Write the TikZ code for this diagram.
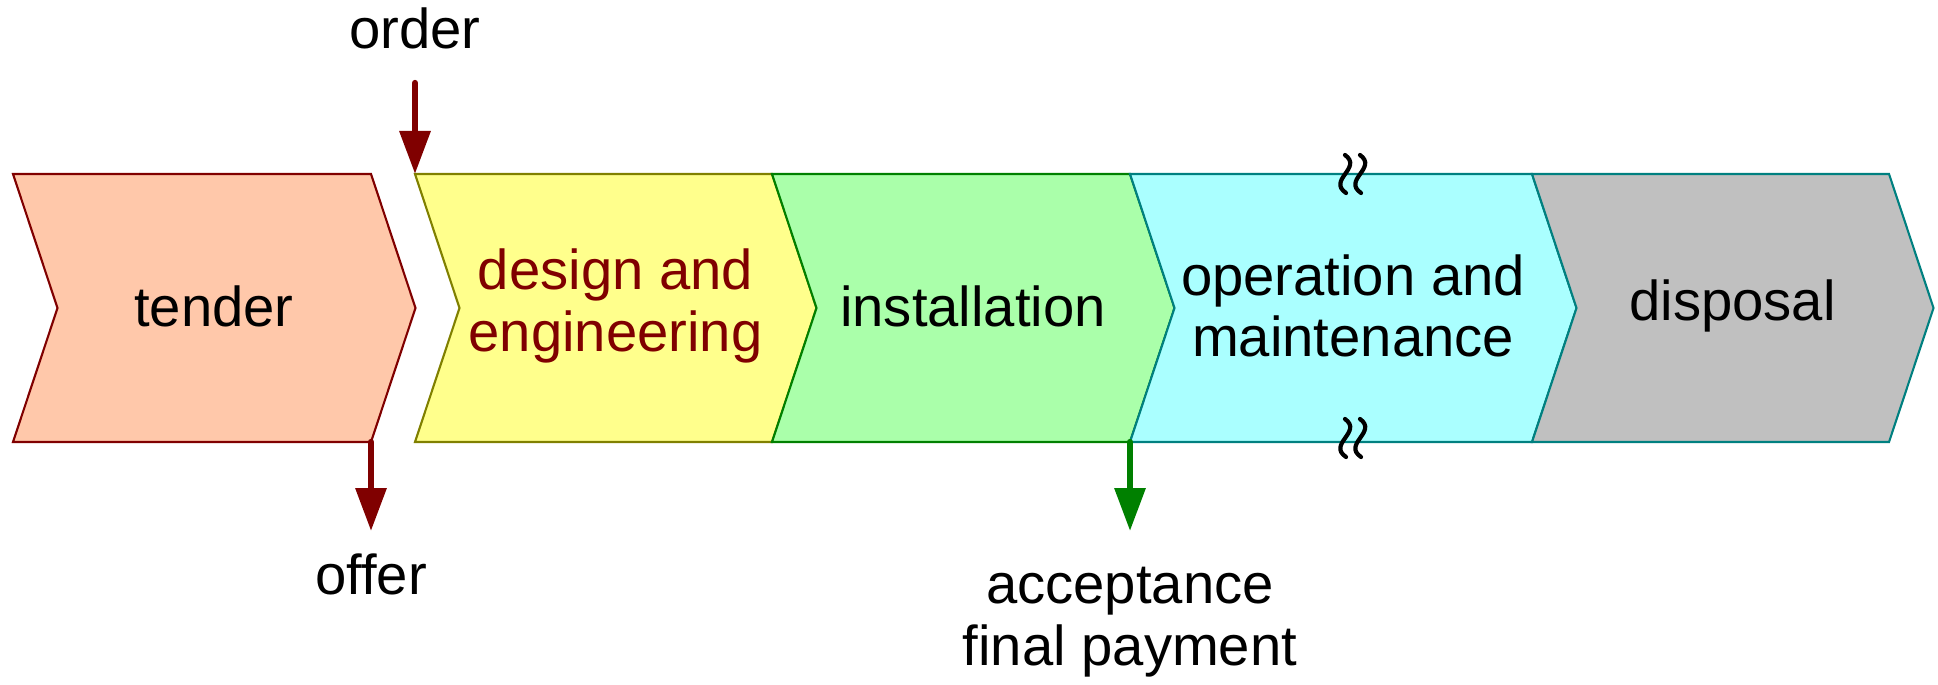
\documentclass[tikz,border=0pt]{standalone}
\usepackage{fontspec}
\setmainfont{Liberation Sans}
\usepackage{xcolor}
\usetikzlibrary{arrows.meta}

\definecolor{tenderfill}{HTML}{FFC8AA}
\definecolor{designfill}{HTML}{FFFF8C}
\definecolor{installfill}{HTML}{AAFFAA}
\definecolor{operatefill}{HTML}{AAFFFF}
\definecolor{disposefill}{HTML}{C0C0C0}
\definecolor{darkred}{HTML}{800000}
\definecolor{olive}{HTML}{808000}
\definecolor{darkgreen}{HTML}{008000}
\definecolor{teal}{HTML}{008080}

\tikzset{
    phase/.style = {line width = 0.6pt, line join = miter},
    phaselabel/.style = {font = \fontsize{16}{17.5}\selectfont, align = center},
    milestone/.style = {line width = 1.8pt, line cap = round,
        -{Triangle[length = 0.43cm, width = 0.30cm]}},
    breakmark/.style = {line width = 1.2pt, line cap = round}
}

\begin{document}
\begin{tikzpicture}
        \useasboundingbox (0, 0) rectangle (19.38, 6.84);

        \filldraw [phase, color = darkred, fill = tenderfill]
            (0.13, 5.10) -- (3.71, 5.10) -- (4.155, 3.76) -- (3.71, 2.42)
            -- (0.13, 2.42) -- (0.575, 3.76) -- cycle;
        \filldraw [phase, color = olive, fill = designfill]
            (4.15, 5.10) -- (7.72, 5.10) -- (8.165, 3.76) -- (7.72, 2.42)
            -- (4.15, 2.42) -- (4.595, 3.76) -- cycle;
        \filldraw [phase, color = darkgreen, fill = installfill]
            (7.72, 5.10) -- (11.30, 5.10) -- (11.745, 3.76) -- (11.30, 2.42)
            -- (7.72, 2.42) -- (8.165, 3.76) -- cycle;
        \filldraw [phase, color = teal, fill = operatefill]
            (11.30, 5.10) -- (15.32, 5.10) -- (15.765, 3.76) -- (15.32, 2.42)
            -- (11.30, 2.42) -- (11.745, 3.76) -- cycle;
        \filldraw [phase, color = teal, fill = disposefill]
            (15.32, 5.10) -- (18.89, 5.10) -- (19.335, 3.76) -- (18.89, 2.42)
            -- (15.32, 2.42) -- (15.765, 3.76) -- cycle;

        \node [phaselabel] (tender) at (2.14, 3.78) {tender};
        \node [phaselabel, text = darkred] (design) at (6.155, 3.78) {design and\\engineering};
        \node [phaselabel] (install) at (9.73, 3.78) {installation};
        \node [phaselabel] (operate) at (13.53, 3.78) {operation and\\maintenance};
        \node [phaselabel] (dispose) at (17.325, 3.78) {disposal};

        % break marks on the operation phase
        \foreach \y in {5.10, 2.46}
            \foreach \x in {13.45, 13.60}
                \draw [breakmark] (\x, \y + 0.19) .. controls (\x + 0.18, \y + 0.06)
                    and (\x - 0.18, \y - 0.06) .. (\x + 0.01, \y - 0.19);

        % milestones
        \coordinate (orderstart) at (4.15, 6.01);
        \coordinate (ordertip) at (4.15, 5.10);
        \coordinate (offerstart) at (3.71, 2.42);
        \coordinate (offertip) at (3.71, 1.53);
        \coordinate (acceptstart) at (11.30, 2.42);
        \coordinate (accepttip) at (11.30, 1.53);

        \draw [milestone, color = darkred] (orderstart) -- (ordertip);
        \draw [milestone, color = darkred] (offerstart) -- (offertip);
        \draw [milestone, color = darkgreen] (acceptstart) -- (accepttip);

        \node [phaselabel] (order) at (4.15, 6.56) {order};
        \node [phaselabel] (offer) at (3.71, 1.10) {offer};
        \node [phaselabel] (accept) at (11.30, 0.62) {acceptance\\final payment};
\end{tikzpicture}
\end{document}
